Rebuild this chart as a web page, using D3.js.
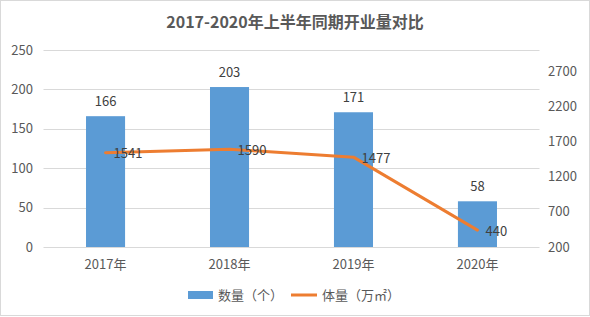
<!DOCTYPE html>
<html>
<head>
<meta charset="utf-8">
<script src="https://cdn.jsdelivr.net/npm/d3@7"></script>
<style>
  body { margin: 0; background: #fff; }
  text { font-family: "Noto Sans CJK SC", "Noto Sans", sans-serif; fill: #595959; }
</style>
</head>
<body>
<svg id="chart" width="590" height="317"></svg>
<script>
const years = ["2017年", "2018年", "2019年", "2020年"]
const counts = [166, 203, 171, 58]
const areas = [1541, 1590, 1477, 440]
const leftTicks = [0, 50, 100, 150, 200, 250]
const rightTicks = [200, 700, 1200, 1700, 2200, 2700]

const w = 590
const h = 317
const svg = d3.select("#chart")

const blue = "#5B9BD5"
const orange = "#ED7D31"

const x = d3.scaleBand().domain(years).range([43.5, 539.5]).paddingInner(0.685).paddingOuter(0.343)
const yLeft = d3.scaleLinear().domain([0, 250]).range([247, 50])
const yRight = d3.scaleLinear().domain([200, 3000]).range([247, 50])

svg.append("rect")
  .attr("x", 0.5).attr("y", 0.5)
  .attr("width", w - 1).attr("height", h - 2)
  .attr("fill", "#fff").attr("stroke", "#d9d9d9")

// gridlines
svg.append("g")
  .selectAll("line")
  .data(leftTicks)
  .join("line")
  .attr("x1", 43.5).attr("x2", 539.5)
  .attr("y1", (d) => Math.round(yLeft(d)) + 0.5)
  .attr("y2", (d) => Math.round(yLeft(d)) + 0.5)
  .attr("stroke", "#d9d9d9")
  .attr("stroke-width", 1)

// left axis labels
svg.append("g")
  .selectAll("text")
  .data(leftTicks)
  .join("text")
  .attr("x", 33)
  .attr("y", (d) => yLeft(d))
  .attr("dy", "0.35em")
  .attr("text-anchor", "end")
  .attr("font-size", 13)
  .text((d) => d)

// right axis labels
svg.append("g")
  .selectAll("text")
  .data(rightTicks)
  .join("text")
  .attr("x", 548)
  .attr("y", (d) => yRight(d))
  .attr("dy", "0.35em")
  .attr("text-anchor", "start")
  .attr("font-size", 13)
  .text((d) => d)

// bars
svg.append("g")
  .selectAll("rect")
  .data(counts)
  .join("rect")
  .attr("x", (d, i) => x(years[i]))
  .attr("y", (d) => yLeft(d))
  .attr("width", x.bandwidth())
  .attr("height", (d) => yLeft(0) - yLeft(d))
  .attr("fill", blue)

// bar labels
svg.append("g")
  .selectAll("text")
  .data(counts)
  .join("text")
  .attr("x", (d, i) => x(years[i]) + x.bandwidth() / 2)
  .attr("y", (d) => yLeft(d) - 10)
  .attr("text-anchor", "middle")
  .attr("font-size", 13)
  .style("fill", "#404040")
  .text((d) => d)

// line
const cx = (i) => x(years[i]) + x.bandwidth() / 2
const line = d3.line()
  .x((d, i) => cx(i))
  .y((d) => yRight(d))

svg.append("path")
  .datum(areas)
  .attr("d", line)
  .attr("fill", "none")
  .attr("stroke", orange)
  .attr("stroke-width", 3)
  .attr("stroke-linejoin", "round")
  .attr("stroke-linecap", "round")

// line labels
svg.append("g")
  .selectAll("text")
  .data(areas)
  .join("text")
  .attr("x", (d, i) => cx(i) + 8)
  .attr("y", (d) => yRight(d) + 1)
  .attr("dy", "0.35em")
  .attr("font-size", 13)
  .style("fill", "#404040")
  .text((d) => d)

// x labels
svg.append("g")
  .selectAll("text")
  .data(years)
  .join("text")
  .attr("x", (d) => x(d) + x.bandwidth() / 2)
  .attr("y", 264)
  .attr("dy", "0.35em")
  .attr("text-anchor", "middle")
  .attr("font-size", 13)
  .text((d) => d)

// title
svg.append("text")
  .attr("x", 295)
  .attr("y", 22)
  .attr("dy", "0.35em")
  .attr("text-anchor", "middle")
  .attr("font-size", 16)
  .attr("font-weight", "bold")
  .text("2017-2020年上半年同期开业量对比")

// legend
const legend = svg.append("g")
legend.append("rect")
  .attr("x", 188).attr("y", 291)
  .attr("width", 25).attr("height", 8)
  .attr("fill", blue)
legend.append("text")
  .attr("x", 218).attr("y", 295)
  .attr("dy", "0.35em")
  .attr("font-size", 13)
  .text("数量（个）")
legend.append("line")
  .attr("x1", 291).attr("x2", 317)
  .attr("y1", 295).attr("y2", 295)
  .attr("stroke", orange)
  .attr("stroke-width", 3)
legend.append("text")
  .attr("x", 322).attr("y", 295)
  .attr("dy", "0.35em")
  .attr("font-size", 13)
  .text("体量（万㎡）")
</script>
</body>
</html>
